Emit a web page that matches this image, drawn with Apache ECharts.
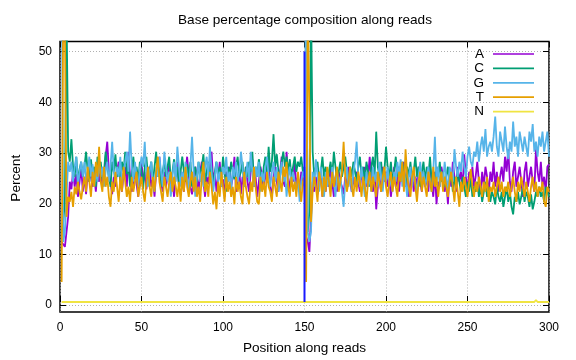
<!DOCTYPE html>
<html><head><meta charset="utf-8">
<script src="https://cdn.jsdelivr.net/npm/echarts@6/dist/echarts.min.js"></script>
<style>html,body{margin:0;padding:0;background:#fff}#c{width:576px;height:360px}</style>
</head><body><div id="c"></div>
<script>
// Position along reads (1..300)
const positions = Array.from({length: 300}, (_, i) => i + 1);
const xTicks = [0, 50, 100, 150, 200, 250, 300];
const yTicks = [0, 10, 20, 30, 40, 50];
const seriesNames = ['A', 'C', 'G', 'T', 'N'];
const readBoundary = 150;
const boundaryRange = [0, 50];

const baseA = [12, 12, 11, 11,
17, 24, 22.5, 26, 23, 25.5, 21, 24, 27, 22,
25, 21.5, 26, 24, 28, 23, 25, 22, 26.5, 24,
27, 23, 25, 29, 32, 26, 24, 21.5, 25, 23,
26, 28, 24, 22, 25.5, 27, 23, 30, 25, 22,
24, 26, 23.5, 21, 25, 28, 24, 26, 22.5, 25,
27, 23, 24.5, 21, 26, 25, 29, 24, 22, 26,
23, 25, 27.5, 22, 24, 21, 25.5, 28, 23, 26,
24, 22, 26, 29, 25, 23, 21.5, 24, 27, 25,
22, 26, 28, 24, 21, 25, 23.5, 27, 30, 24,
26, 22, 25, 28, 23, 24.5, 21, 26, 24, 27,
23, 25, 29, 22, 24, 26.5, 21.5, 25, 23, 27,
24, 22, 26, 28.5, 23, 25, 21, 24, 27, 25,
22.5, 26, 24, 28, 23, 21, 25, 27, 24, 22,
26, 29, 24, 23, 30, 25, 22, 26.5, 24, 28,
23, 25, 22, 26, 24, 23,
13, 12, 10, 10,
24, 22, 25, 21.5, 23, 26, 21, 24, 22, 25,
23, 27, 24, 21, 25, 22, 26, 24, 23, 21.5,
25, 23, 27, 24, 22, 25, 23, 26, 24, 22,
26, 24, 27, 23, 25, 29, 24, 22, 26, 18.5,
23, 25, 22, 27, 24, 26, 23, 25, 21, 24,
27, 23, 25, 22, 26, 24, 28, 23, 25, 21,
24, 26, 22, 25, 23, 27, 24, 22, 26, 23,
25, 22, 27, 24, 21, 26, 19.5, 24, 23, 27,
25, 22, 24, 19.5, 26, 23, 28, 25, 22, 27,
24, 26, 23, 29.5, 25, 22, 26, 24, 27, 23,
25, 28, 24, 22, 26, 23, 27, 25, 21.5, 26,
24, 28, 23, 26, 22, 25, 27, 24, 29, 26,
30.5, 24, 22, 26, 28, 23, 25, 27, 24, 21,
26, 28, 23, 25, 27, 24, 22, 30.5, 26, 24,
28, 23, 25, 22, 27, 27.5];

const baseC = [14, 16, 20, 58,
30, 28, 32.5, 27, 25, 29, 24, 26.5, 28, 25,
27, 30, 26, 24, 28.5, 25, 27, 23, 29, 26,
28, 24.5, 26, 30, 27, 25, 23, 28, 26, 29.5,
25, 27, 24, 28, 26, 30, 25.5, 27, 23, 26,
29, 25, 27, 24, 28, 26, 22.5, 27, 29, 25,
26, 28, 24, 27, 30, 25, 27.5, 23, 26, 28,
25, 27, 29, 24, 26, 28.5, 25, 27, 23, 26,
29, 26, 24, 27.5, 25, 28, 23, 26, 27, 24,
28, 25, 27, 29.5, 24, 26, 28, 25, 27, 23,
26, 28, 25, 27, 24, 29, 26, 22, 27, 25,
28, 26, 24.5, 27, 29, 25, 26, 28, 23, 27,
25, 28, 26, 30, 24, 27, 25, 28.5, 26, 24,
27, 29, 25, 31, 26, 28, 33.5, 27, 29.5, 26,
25, 28, 30, 27, 29, 26, 28.5, 25, 27, 29,
26, 28, 27, 29, 26, 27,
15, 14, 18, 60,
30, 25, 27, 28, 24, 26, 29, 25, 27, 24,
26, 28, 25, 30, 27, 24, 26, 28, 25, 27,
29, 26, 24, 27, 25, 28, 26, 24, 27, 29,
25, 27, 24, 28, 26, 23, 27, 29, 25, 34,
27, 25, 28, 24, 26, 31, 27, 25, 28, 24,
26, 29, 25, 27, 24, 28, 26, 23, 27, 25,
28, 24, 26, 29, 25, 27, 23, 26, 28, 24,
27, 25, 29, 24, 26, 23, 27, 25, 28, 24,
26, 23, 25, 27, 24, 26, 22, 25, 23, 26,
24, 22, 25, 23, 21, 24, 22, 25, 21, 23,
22, 24, 21, 23, 20, 22, 24, 21, 23, 20,
22, 21, 19.5, 23, 21, 20, 22, 19, 21, 23,
20, 22, 19, 17.5, 21, 20, 22, 19.5, 21, 23,
20, 22, 21, 19, 21.5, 18.5, 20, 22, 21, 23,
21, 22, 20, 23, 22, 21];

const baseG = [70, 12, 14, 14,
28, 26, 28, 24, 27, 29, 23, 26, 28, 25,
28, 24, 26, 29, 25, 27.5, 23, 26, 24, 28,
25, 27, 23, 26, 28, 24, 27, 32, 26, 24,
27, 25, 29, 23, 26, 28, 30, 26, 34, 27,
24, 28, 25, 23, 26.5, 29, 27, 32, 25, 23,
26, 28, 24, 22, 27, 25, 29, 26, 23, 30,
27, 24, 26, 21, 25, 28, 24, 31, 27, 23,
26, 24, 28, 25, 22, 27, 33, 26, 21, 25,
28, 24, 26, 23, 27, 29, 25, 31, 26, 22,
25, 28, 24, 26, 23, 27, 25.5, 29, 24, 26,
22, 27, 25, 28, 24, 26, 30, 27, 23, 25,
28, 24, 30, 26, 23, 27, 25, 28, 22, 26,
24, 27, 29, 25, 23, 26, 28, 24, 27, 22,
25, 28, 24, 26, 21, 25, 27, 23, 26, 24,
22, 25, 20, 24, 26, 25,
68, 14, 12, 14,
26, 23, 28.5, 25, 22, 27, 24, 21, 26, 23,
25, 22, 27, 24, 21, 26, 23, 25, 22, 19,
24, 27, 23, 25, 22, 26, 28, 32, 25, 23,
27, 24, 21, 26, 23, 25, 22, 27, 24, 26,
23, 28, 25, 22, 26, 24, 27, 23, 25, 22,
26, 24, 28, 25, 28.5, 23, 26, 24, 21, 25,
27, 23, 26, 24, 22, 25, 28, 24, 26, 23,
25, 27, 24, 22, 26, 33, 24, 27, 23, 26,
24, 28, 25, 22, 27, 26, 24, 30.5, 27, 25,
28, 26, 30, 27, 25, 29, 31, 28, 27, 30,
29, 32, 28, 31, 33, 30, 34.5, 29, 31, 32,
30, 33, 37, 31, 29, 34, 32, 30, 35, 31,
28.5, 32, 30, 36, 31, 33, 29, 34, 32, 30,
33, 31, 29, 34, 32, 35.5, 30, 32, 29, 33,
31, 34, 30, 32, 34, 29];

const baseT = [4, 60, 55, 17,
21, 20, 22, 19, 23, 21.5, 24, 22, 20.5, 23,
25, 22, 27, 24, 21, 26, 23, 28, 25, 31,
24, 22, 27, 23, 25, 21, 19, 24, 22, 26,
23, 20, 25, 22, 27, 24, 21, 23, 20, 25,
22, 24, 26, 21, 23, 25, 22, 20, 24, 27,
23, 21, 25, 22, 26, 29, 24, 22, 20, 25,
23, 21, 24, 26, 22, 25, 23, 21, 24, 20,
25, 22, 27, 23, 21, 24, 26, 22, 25, 21,
23, 20, 25, 28, 22, 24, 21, 26, 23, 19.5,
22, 18.5, 24, 21, 26, 23, 20, 25, 22, 24,
21, 23, 19.5, 25, 22, 24, 21, 19.5, 26, 23,
21, 19.5, 24, 22, 27, 23, 20, 19.5, 25, 22,
24, 21, 26, 23, 22, 20, 25, 23, 21, 26,
24, 22, 27, 25, 28, 23, 21, 25, 22, 24,
21, 26, 23, 20, 24, 25,
4, 60, 60, 16,
22, 25, 23, 20, 26, 24, 21, 25, 22, 27,
24, 21, 26, 23, 25, 27, 22, 24, 26, 32,
25, 22, 24, 27, 23, 21, 25, 22, 26, 24,
21, 25, 23, 20, 24, 26, 22, 25, 23, 21,
26, 24, 22, 25, 27, 23, 21, 24, 26, 22,
25, 23, 21, 26, 24, 28, 22, 30.5, 25, 23,
21, 25, 27, 23, 20, 24, 26, 22, 25, 23,
21, 26, 24, 22, 27, 23, 25, 21, 24, 26,
22, 25, 23, 21, 24, 26, 23, 20, 25, 22,
19, 24, 22, 25, 23, 21, 24, 26.5, 23, 21,
24, 22, 25, 23, 21, 24, 22, 25, 20, 23,
22, 24, 21, 23, 25, 22, 24, 21, 23, 22,
24, 21, 23, 25, 22, 20, 24, 22, 25, 23,
21, 24, 22, 20, 23, 25, 22, 24, 21, 23,
22, 24, 20, 19, 23, 22];

// N is zero almost everywhere; tiny bump near position 292
const baseN = positions.map(p => (p === 292 ? 0.4 : 0));

const colors = ['#9400d3', '#009e73', '#56b4e9', '#e69f00', '#f0e442'];
const boundaryColor = '#1a1aff';
const FONT = "'Liberation Sans', Arial, sans-serif";

const top0 = 41.5, bottom0 = 45, yMin = -2, yMax = 52;
const unit = (360 - top0 - bottom0) / (yMax - yMin);

const values = [baseA, baseC, baseG, baseT, baseN];
const series = seriesNames.map((name, k) => ({
  name: name, type: 'line', xAxisIndex: 0, yAxisIndex: 0,
  symbol: 'none', clip: true,
  data: positions.map((p, i) => [p, values[k][i]]),
  lineStyle: {color: colors[k], width: 1.8},
  itemStyle: {color: colors[k]}
}));
series.push({
  name: 'boundary', type: 'line', xAxisIndex: 0, yAxisIndex: 0, symbol: 'none',
  data: [[readBoundary, boundaryRange[0]], [readBoundary, boundaryRange[1]]],
  lineStyle: {color: boundaryColor, width: 2}, itemStyle: {color: boundaryColor}
});

const gridLine = {show: true, lineStyle: {color: '#b0b0b0', width: 1, type: [1, 2]}};
const tickStyle = {show: true, inside: true, length: 6, lineStyle: {color: '#000', width: 1}};
const labelStyle = {fontFamily: FONT, fontSize: 12, color: '#000'};

const option = {
  animation: false,
  backgroundColor: '#fff',
  graphic: [{
    type: 'text', x: 305, y: 20,
    style: {text: 'Base percentage composition along reads', textAlign: 'center', textVerticalAlign: 'middle',
      font: "13.6px 'Liberation Sans', Arial, sans-serif", fill: '#000'}
  }],
  legend: {
    data: seriesNames, orient: 'vertical', right: 42, top: 47, align: 'right', padding: 0,
    icon: 'path://M0,0H40V1.7H0Z',
    itemWidth: 41, itemHeight: 14, itemGap: 0.4, selectedMode: false,
    textStyle: {fontFamily: FONT, fontSize: 13.5, color: '#000', padding: [0, 4, 0, 0], lineHeight: 14}
  },
  grid: [
    {left: 60, right: 27, top: top0, bottom: bottom0, show: true, borderColor: '#000', borderWidth: 1.5},
    {left: 60, right: 27, top: top0 + (yMax - 50) * unit, bottom: bottom0 + (0 - yMin) * unit}
  ],
  xAxis: [
    {gridIndex: 0, type: 'value', min: xTicks[0], max: xTicks[xTicks.length - 1], interval: 50, position: 'bottom',
      axisLine: {show: false}, axisTick: tickStyle,
      axisLabel: Object.assign({margin: 10}, labelStyle),
      splitLine: gridLine,
      name: 'Position along reads', nameLocation: 'middle', nameGap: 29,
      nameTextStyle: {fontFamily: FONT, fontSize: 13.6, color: '#000'}},
    {gridIndex: 0, type: 'value', min: 0, max: 300, interval: 50, position: 'top',
      axisLine: {show: false}, axisTick: tickStyle, axisLabel: {show: false}, splitLine: {show: false}},
    {gridIndex: 1, type: 'value', min: 0, max: 300, show: false}
  ],
  yAxis: [
    {gridIndex: 0, type: 'value', min: yMin, max: yMax, show: false},
    {gridIndex: 1, type: 'value', min: yTicks[0], max: yTicks[yTicks.length - 1], interval: 10, position: 'left',
      axisLine: {show: false}, axisTick: tickStyle,
      axisLabel: Object.assign({margin: 8}, labelStyle),
      splitLine: gridLine,
      name: 'Percent', nameLocation: 'middle', nameGap: 37, nameRotate: 90,
      nameTextStyle: {fontFamily: FONT, fontSize: 13.6, color: '#000'}},
    {gridIndex: 1, type: 'value', min: 0, max: 50, interval: 10, position: 'right',
      axisLine: {show: false}, axisTick: tickStyle, axisLabel: {show: false}, splitLine: {show: false}}
  ],
  series: series
};

const chart = echarts.init(document.getElementById('c'), null, {renderer: 'canvas'});
chart.setOption(option);
</script>
</body></html>
